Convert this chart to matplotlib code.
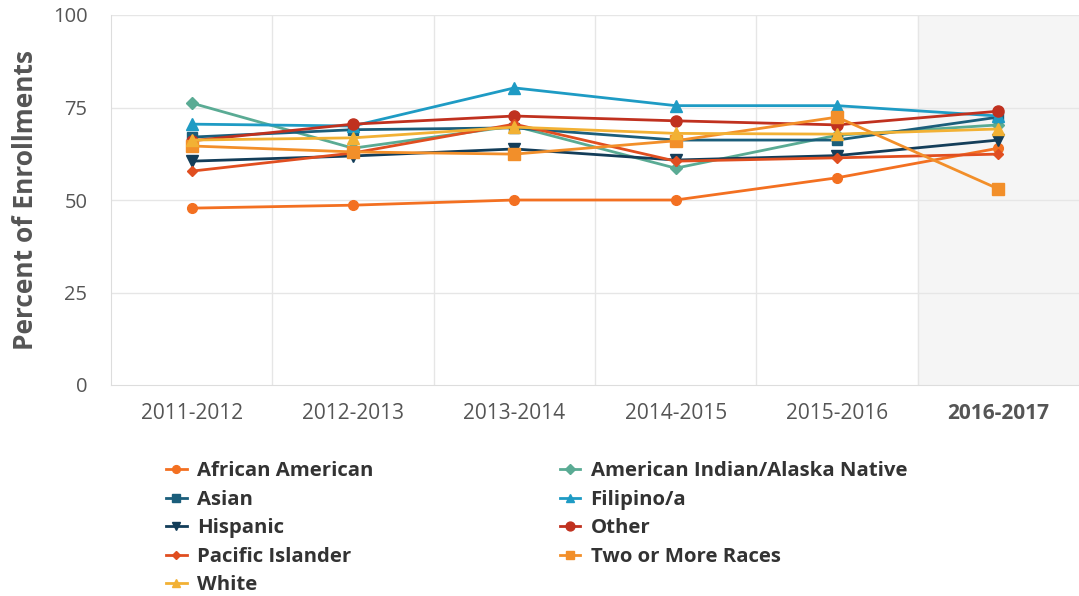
import matplotlib
matplotlib.use("Agg")
import matplotlib.pyplot as plt

years = ["2011-2012", "2012-2013", "2013-2014", "2014-2015", "2015-2016", "2016-2017"]
african_american = [47.8, 48.6, 50.0, 50.0, 56.0, 64.0]
american_indian = [76.2, 64.0, 70.0, 58.6, 67.5, 70.3]
asian = [67.0, 69.0, 69.5, 66.2, 66.2, 72.4]
filipino = [70.5, 70.0, 80.3, 75.5, 75.5, 72.7]
hispanic = [60.5, 61.9, 63.8, 60.8, 62.0, 66.2]
other = [66.0, 70.5, 72.7, 71.4, 70.3, 74.0]
pacific_islander = [57.8, 62.7, 70.5, 60.5, 61.4, 62.4]
two_or_more = [64.6, 63.0, 62.4, 66.0, 72.4, 53.0]
white = [66.2, 66.8, 69.7, 68.0, 67.8, 69.2]

series = [
    ("African American", african_american, "#f37021", "o", 7),
    ("American Indian/Alaska Native", american_indian, "#5aab94", "D", 6),
    ("Asian", asian, "#1b5e7b", "s", 7),
    ("Filipino/a", filipino, "#1e9bc4", "^", 8),
    ("Hispanic", hispanic, "#133d59", "v", 8),
    ("Other", other, "#c0311f", "o", 8),
    ("Pacific Islander", pacific_islander, "#e04e20", "D", 5),
    ("Two or More Races", two_or_more, "#f28f2a", "s", 8),
    ("White", white, "#f2b134", "^", 8),
]

plt.rcParams['font.family'] = ['Open Sans', 'DejaVu Sans']
fig = plt.figure(figsize=(10.79, 5.96), dpi=100)
ax = fig.add_axes([111/1079, 1 - 385/596, (1079-111)/1079, (385-15)/596])

x = list(range(len(years)))
ax.axvspan(4.5, 5.5, color="#f5f5f5", zorder=0)
handles = {}
for name, vals, col, mk, ms in series:
    h, = ax.plot(x, vals, color=col, marker=mk, markersize=ms, linewidth=2, label=name, zorder=3)
    handles[name] = h

ax.set_xlim(-0.5, 5.5)
ax.set_ylim(0, 100)
ax.set_yticks([0, 25, 50, 75, 100])
ax.set_xticks(x)
ax.set_xticklabels(years)
for b in [0.5, 1.5, 2.5, 3.5, 4.5]:
    ax.axvline(b, color="#e6e6e6", linewidth=1, zorder=1)
for yv in [25, 50, 75, 100]:
    ax.axhline(yv, color="#e6e6e6", linewidth=1, zorder=1)
for s in ["top", "right"]:
    ax.spines[s].set_visible(False)
ax.spines["left"].set_color("#dddddd")
ax.spines["bottom"].set_color("#dddddd")
ax.tick_params(axis="x", length=0, labelsize=15, colors="#555555", pad=13)
ax.tick_params(axis="y", length=0, labelsize=14.5, colors="#555555", pad=17)
ax.get_xticklabels()[-1].set_fontweight("bold")
ax.set_ylabel("Percent of Enrollments", fontsize=19, fontweight="bold", color="#555555", labelpad=10)

order = ["African American", "Asian", "Hispanic", "Pacific Islander", "White",
         "American Indian/Alaska Native", "Filipino/a", "Other", "Two or More Races"]
leg = fig.legend([handles[n] for n in order], order, ncol=2, loc="upper left",
                 bbox_to_anchor=(158/1079, 1 - 453/596), frameon=False,
                 prop={"weight": "bold", "size": 14.7}, labelcolor="#333333",
                 handlelength=1.0, handletextpad=0.5, columnspacing=9.15,
                 labelspacing=0.42, markerscale=0.8, borderaxespad=0)
fig.savefig("out.png", dpi=100)
